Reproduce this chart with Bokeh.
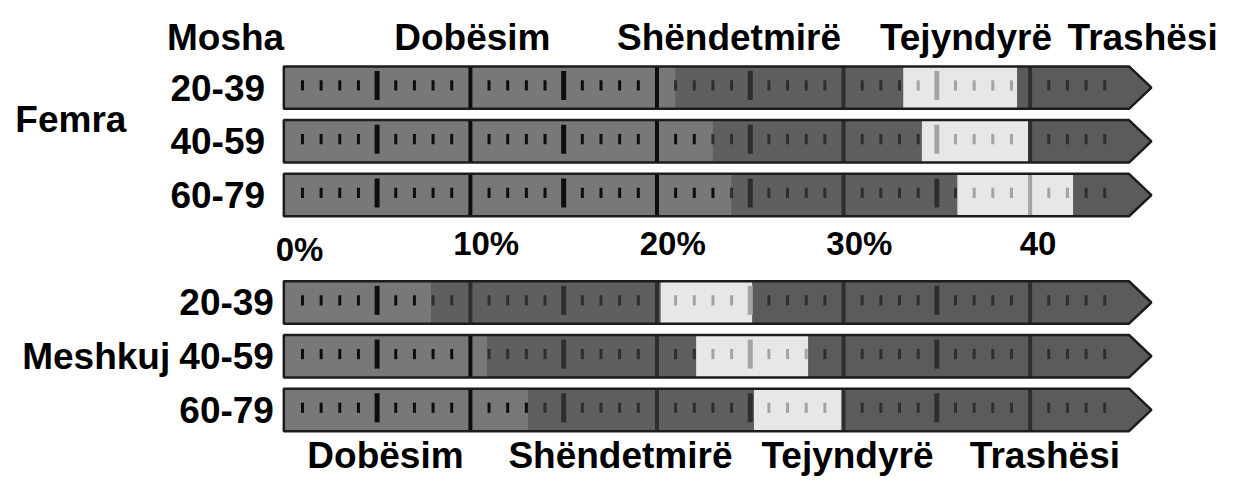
from bokeh.plotting import figure
from bokeh.models import Range1d, ColumnDataSource
from bokeh.core.properties import value
from bokeh.embed import file_html
from bokeh.resources import INLINE

# ---------------- data ----------------
groups = ["Femra", "Meshkuj"]
ages = ["20-39", "40-59", "60-79"]
categories = ["Dobësim", "Shëndetmirë", "Tejyndyrë", "Trashësi"]
header_title = "Mosha"
# segment lengths along the scale (%); rows: Femra 20-39, 40-59, 60-79, Meshkuj 20-39, 40-59, 60-79
dobesim = [21.0, 23.0, 24.0, 7.9, 10.9, 13.1]
shendetmire = [12.2, 11.2, 12.1, 12.3, 11.2, 12.1]
tejyndyre = [6.1, 5.7, 6.2, 4.9, 6.0, 4.7]
scale_end = 45.3
tick_values = [0, 10, 20, 30, 40]
tick_labels = ["0%", "10%", "20%", "30%", "40"]

# ---------------- layout / style ----------------
W, H = 1231, 483
SX, SY = W / 1247, H / 499          # reference px -> canvas px
PX_PER_UNIT = 18.9 * SX
X0_PX = 287 * SX
ROW_PITCH = 55.5 * SY
ROW0_PX = 90 * SY
row_slots = [0, 1, 2, 4, 5, 6]
BAR_H = 0.79
ARROW = 1.2
FONT = value("Liberation Sans")
FS = "37px"
FS_AX = "33px"

seg_fill = ["#787878", "#5f5f5f", "#e7e7e7", "#5b5b5b"]
tick_col = ["#0d0d0d", "#2e2e2e", "#a3a3a3", "#2e2e2e"]


def px_x(px):
    return (px * SX - X0_PX) / PX_PER_UNIT


def px_y(py):
    return (py * SY - ROW0_PX) / ROW_PITCH


p = figure(width=W, height=H, output_backend="svg", toolbar_location=None,
           x_range=Range1d(-X0_PX / PX_PER_UNIT, (W - X0_PX) / PX_PER_UNIT),
           y_range=Range1d((H - ROW0_PX) / ROW_PITCH, -ROW0_PX / ROW_PITCH),
           x_axis_location=None, y_axis_location=None, min_border=0)
p.grid.visible = False
p.outline_line_color = None
p.background_fill_color = "white"
p.border_fill_color = "white"

n = len(dobesim)
bounds = []
for r in range(n):
    a = dobesim[r]
    b = a + shendetmire[r]
    c = b + tejyndyre[r]
    bounds.append([0.0, a, b, c, scale_end + ARROW])

# whole bar (arrow-shaped) in last category colour
xs, ys = [], []
for r in range(n):
    yc = row_slots[r]
    t, bt = yc - BAR_H / 2, yc + BAR_H / 2
    xs.append([0, scale_end, scale_end + ARROW, scale_end, 0])
    ys.append([t, t, yc, bt, bt])
p.patches(xs, ys, fill_color=seg_fill[3], line_color=None)

# first three segments
for k in range(3):
    src = ColumnDataSource(dict(
        left=[bounds[r][k] for r in range(n)],
        right=[bounds[r][k + 1] for r in range(n)],
        top=[row_slots[r] - BAR_H / 2 for r in range(n)],
        bottom=[row_slots[r] + BAR_H / 2 for r in range(n)],
    ))
    p.quad(left="left", right="right", top="top", bottom="bottom", source=src,
           fill_color=seg_fill[k], line_color=None)


def seg_index(r, x):
    for k in range(4):
        if x < bounds[r][k + 1]:
            return k
    return 3


def tick_source(kind):
    d = dict(x0=[], x1=[], y0=[], y1=[], c=[])
    for r in range(n):
        yc = row_slots[r]
        for i in range(1, int(scale_end)):
            if kind == "minor" and i % 5 == 0:
                continue
            if kind == "major" and not (i % 5 == 0 and i % 10 != 0):
                continue
            if kind == "border" and i % 10 != 0:
                continue
            half = {"minor": 0.095, "major": 0.27, "border": BAR_H / 2}[kind]
            off = -0.04 if kind != "border" else 0.0
            d["x0"].append(i)
            d["x1"].append(i)
            d["y0"].append(yc - half + off)
            d["y1"].append(yc + half + off)
            d["c"].append(tick_col[seg_index(r, i)])
    return ColumnDataSource(d)


p.segment("x0", "y0", "x1", "y1", source=tick_source("minor"), line_color="c", line_width=3)
p.segment("x0", "y0", "x1", "y1", source=tick_source("major"), line_color="c", line_width=5)
p.segment("x0", "y0", "x1", "y1", source=tick_source("border"), line_color="c", line_width=4)

# outlines
p.patches(xs, ys, fill_color=None, line_color="#1c1c1c", line_width=2.5)

# ---------------- texts ----------------
big = dict(text_font=FONT, text_font_style="bold", text_color="black")

# header
p.text(x=[px_x(228), px_x(478), px_x(738), px_x(978), px_x(1157)],
       y=[px_y(38)] * 5, text=[header_title] + categories,
       text_align="center", text_baseline="middle", text_font_size=FS, **big)

# bottom labels
p.text(x=[px_x(390), px_x(628), px_x(858), px_x(1058)], y=[px_y(470)] * 4,
       text=categories, text_align="center", text_baseline="middle",
       text_font_size=FS, **big)

# age labels
p.text(x=[0] * 3, y=row_slots[:3], text=ages, x_offset=-19 * SX,
       text_align="right", text_baseline="middle", text_font_size=FS, **big)
p.text(x=[0] * 3, y=row_slots[3:], text=ages, x_offset=-10 * SX,
       text_align="right", text_baseline="middle", text_font_size=FS, **big)

# group labels
p.text(x=[px_x(15)], y=[px_y(123)], text=[groups[0]], text_align="left",
       text_baseline="middle", text_font_size=FS, **big)
p.text(x=[px_x(22)], y=[row_slots[4]], text=[groups[1]], text_align="left",
       text_baseline="middle", text_font_size=FS, **big)

# scale labels
lab_src = ColumnDataSource(dict(
    x=tick_values, text=tick_labels,
    y=[px_y(257)] + [px_y(251)] * (len(tick_values) - 1),
    xo=[16 * SX if l.endswith("%") else 8 * SX for l in tick_labels],
))
p.text(x="x", y="y", text="text", x_offset="xo", source=lab_src,
       text_align="center", text_baseline="middle", text_font_size=FS_AX, **big)

open("out.html", "w").write(file_html(p, INLINE))
